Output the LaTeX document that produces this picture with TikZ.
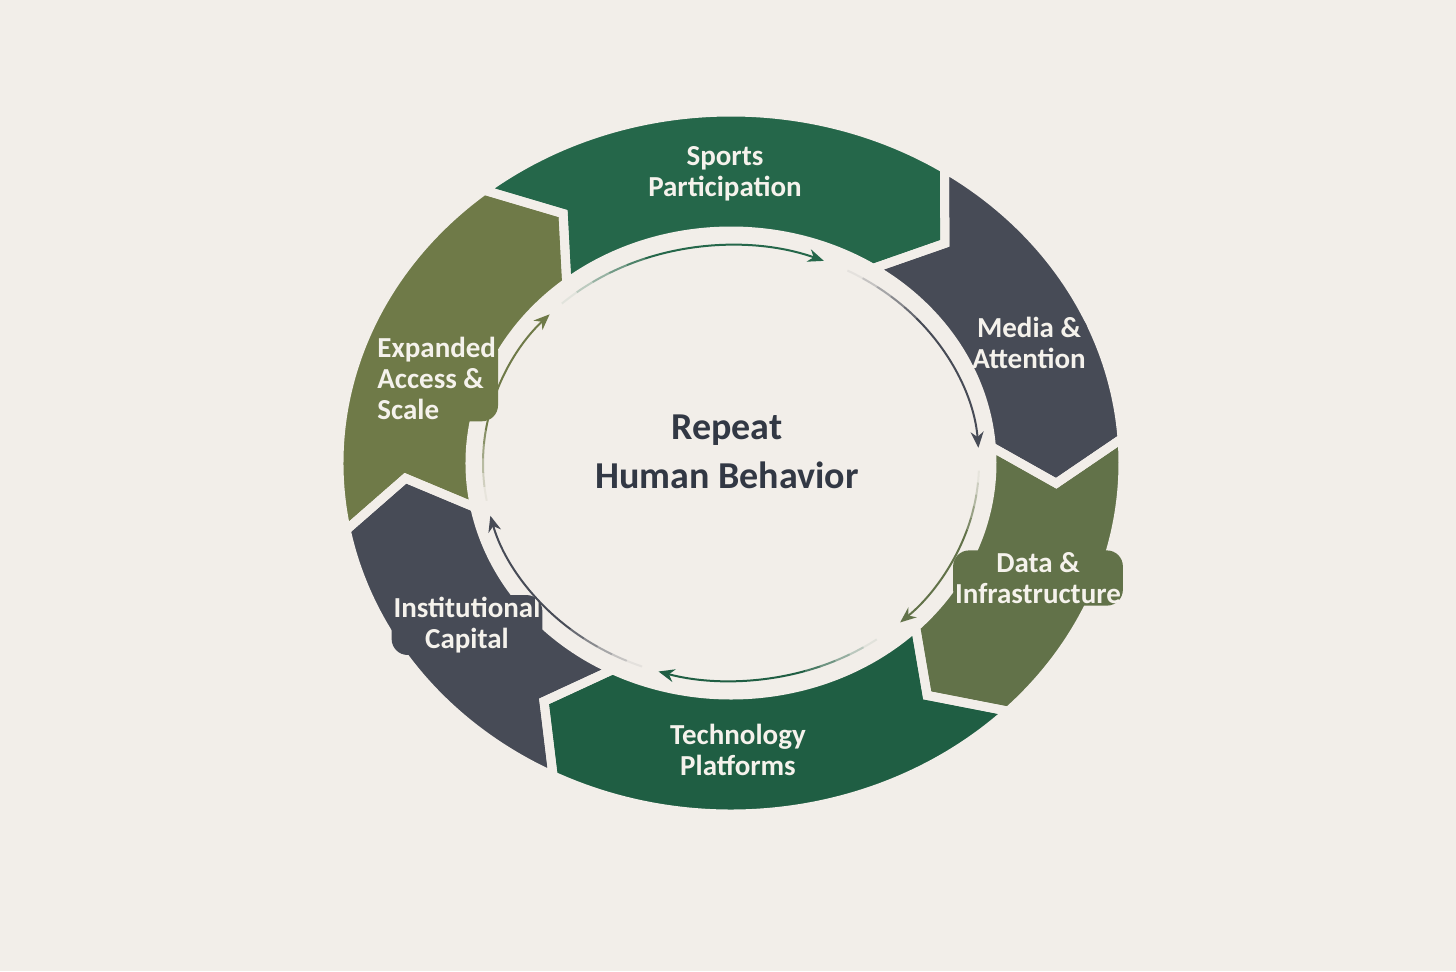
\documentclass[tikz,border=0pt]{standalone}
\usepackage{fontspec}
\setmainfont{Carlito}
\usepackage{xcolor}
\usepackage{tikz}
\usetikzlibrary{arrows.meta}

\definecolor{bgcream}{HTML}{F2EEE9}
\definecolor{sportgreen}{HTML}{25674A}
\definecolor{techgreen}{HTML}{1F5E43}
\definecolor{slategray}{HTML}{474B56}
\definecolor{oliveA}{HTML}{6F7A48}
\definecolor{oliveB}{HTML}{627249}
\definecolor{labelwhite}{HTML}{F5F2EC}
\definecolor{coretext}{HTML}{323844}

\begin{document}
\begin{tikzpicture}[
  x=0.5pt, y=0.5pt,
  ringseg/.style 2 args={insert path={
    ({392*cos(#1)},{351*sin(#1)}) arc[start angle=#1, end angle=#2, x radius=392, y radius=351]
    -- ({326*cos(#2-8)},{291*sin(#2-8)})
    -- ({261*cos(#2)},{232*sin(#2)}) arc[start angle=#2, end angle=#1, x radius=261, y radius=232]
    -- ({326*cos(#1-8)},{291*sin(#1-8)}) -- cycle}},
  gap_line/.style={draw=bgcream, line width=4.5pt, line join=miter},
  loop_arrow/.style={-{Stealth[length=8pt, width=6.5pt]}, line width=1pt},
  seg_label/.style={align=center, text=labelwhite, rounded corners=8pt, inner sep=1pt,
    font=\fontsize{14.5}{15.5}\selectfont\bfseries},
  core_label/.style={align=center, text=coretext, font=\fontsize{19}{24.5}\selectfont\bfseries}
]

  % Background and frame
  \useasboundingbox (-731,-508) rectangle (725,463);
  \fill[bgcream] (-731,-508) rectangle (725,463);

  % Ring segments (clockwise)
  \foreach \a/\b/\c in {129/57/sportgreen, 57/4/slategray, 4/-45/oliveB,
                        -45/-117/techgreen, -117/-169/slategray, -169/-231/oliveA} {
    \fill[\c, ringseg={\a}{\b}];
  }
  % White gaps between segments
  \foreach \a/\b in {129/57, 57/4, 4/-45, -45/-117, -117/-169, -169/-231} {
    \path[gap_line, ringseg={\a}{\b}];
  }

  % Segment labels
  \node[seg_label, fill=sportgreen] (sports) at (-6,289) {Sports\\Participation};
  \node[seg_label, fill=slategray] (media) at (298,120) {Media \&\\Attention};
  \node[seg_label, fill=oliveB] (data) at (307,-115) {Data \&\\Infrastructure};
  \node[seg_label, fill=techgreen] (tech) at (7,-287) {Technology\\Platforms};
  \node[seg_label, fill=slategray] (inst) at (-264,-162) {Institutional\\Capital};
  \node[seg_label, fill=oliveA, align=left, anchor=west] (access) at (-356,85) {Expanded\\Access \&\\Scale};

  % Inner loop arrows, tails fading in
  \foreach \s/\e/\c [count=\n] in {133/68/sportgreen, 62/4/slategray, -2/-47/oliveB,
                                   -54/-107/techgreen, -111/-166/slategray, -170/-223/oliveA} {
    \coordinate (s\n) at ({248*cos(\s)},{218*sin(\s)});
    \pgfmathsetmacro{\m}{\s+0.35*(\e-\s)}
    \foreach \k in {0,...,4} {
      \pgfmathsetmacro{\p}{\s+0.07*\k*(\e-\s)}
      \pgfmathsetmacro{\q}{\s+0.07*(\k+1)*(\e-\s)}
      \pgfmathsetmacro{\o}{0.08+0.18*\k}
      \draw[\c, line width=1pt, opacity=\o] ({248*cos(\p)},{218*sin(\p)})
        arc[start angle=\p, end angle=\q, x radius=248, y radius=218];
    }
    \draw[loop_arrow, \c] ({248*cos(\m)},{218*sin(\m)})
      arc[start angle=\m, end angle=\e, x radius=248, y radius=218];
  }

  % Centre
  \node[core_label] (core) at (-4,11) {Repeat\\Human Behavior};

\end{tikzpicture}
\end{document}
